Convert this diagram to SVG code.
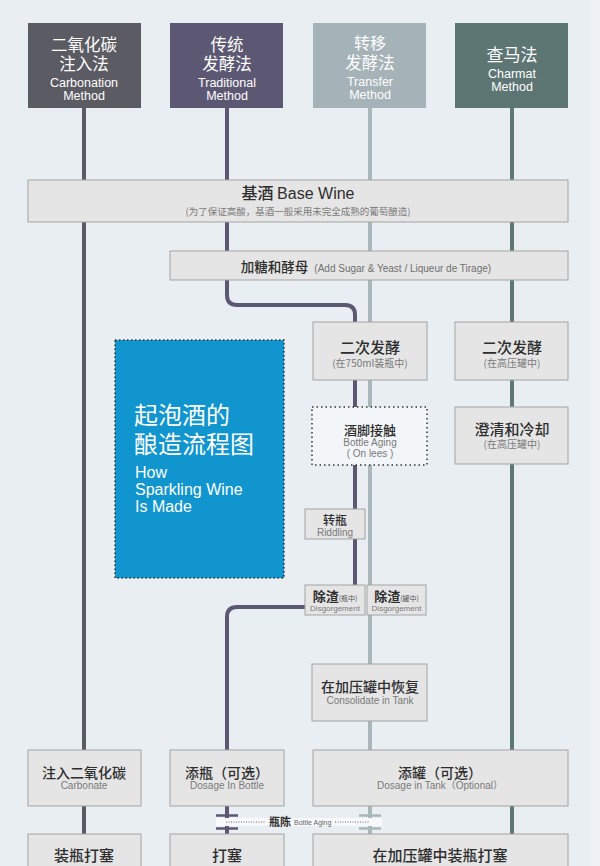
<svg xmlns="http://www.w3.org/2000/svg" width="600" height="866" viewBox="0 0 600 866">
<style>
.cn{font-family:"Noto Sans CJK SC","Liberation Sans",sans-serif}
.en{font-family:"Liberation Sans","Noto Sans CJK SC",sans-serif}
.hd{fill:#ffffff;text-anchor:middle}
.box{fill:#e5e5e5;stroke:#a3a3a3;stroke-width:1}
.t{fill:#2e2e2e;text-anchor:middle;font-weight:500}
.s{fill:#7a7a7a;text-anchor:middle}
.ln{fill:none;stroke-width:4}
</style>
<rect width="600" height="866" fill="#e9eef2"/>
<rect x="590" y="0" width="10" height="866" fill="#eef2f5"/>

<g id="connectors">
<path class="ln" d="M84 108 V866" stroke="#5b5b63"/>
<path class="ln" d="M370 108 V866" stroke="#a9b6ba"/>
<path class="ln" d="M512 108 V866" stroke="#5e7874"/>
<path class="ln" d="M227 108 V295 Q227 305 237 305 H345 Q355 305 355 315 V590" stroke="#5c5873"/>
<path class="ln" d="M306 607 H237 Q227 607 227 617 V866" stroke="#5c5873"/>
</g>

<g id="h1">
<rect x="28" y="23" width="113" height="85" fill="#5b5b63"/>
<text class="cn hd" x="84" y="51" font-size="16.5">二氧化碳</text>
<text class="cn hd" x="84" y="70" font-size="16.5">注入法</text>
<text class="en hd" x="84" y="87" font-size="12.5">Carbonation</text>
<text class="en hd" x="84" y="100" font-size="12.5">Method</text>
</g>
<g id="h2">
<rect x="170" y="23" width="113" height="85" fill="#5c5873"/>
<text class="cn hd" x="227" y="51" font-size="16.5">传统</text>
<text class="cn hd" x="227" y="70" font-size="16.5">发酵法</text>
<text class="en hd" x="227" y="87" font-size="12.5">Traditional</text>
<text class="en hd" x="227" y="100" font-size="12.5">Method</text>
</g>
<g id="h3">
<rect x="313" y="23" width="113" height="85" fill="#a5b3b8"/>
<text class="cn hd" x="370" y="49" font-size="16">转移</text>
<text class="cn hd" x="370" y="69" font-size="16.5">发酵法</text>
<text class="en hd" x="370" y="86" font-size="12.5">Transfer</text>
<text class="en hd" x="370" y="99" font-size="12.5">Method</text>
</g>
<g id="h4">
<rect x="455" y="23" width="113" height="85" fill="#5d7673"/>
<text class="cn hd" x="512" y="61" font-size="17">查马法</text>
<text class="en hd" x="512" y="78" font-size="12.5">Charmat</text>
<text class="en hd" x="512" y="91" font-size="12.5">Method</text>
</g>

<g id="base-wine">
<rect class="box" x="28" y="180" width="540" height="42" fill="#e7e7e7"/>
<text class="cn t" x="298" y="199" font-size="16">基酒 <tspan class="en">Base Wine</tspan></text>
<text class="cn s" x="298" y="215" font-size="9.5">(为了保证高酸，基酒一般采用未完全成熟的葡萄酿造)</text>
</g>

<g id="add-sugar">
<rect class="box" x="170" y="251" width="398" height="29"/>
<text x="366" y="272" text-anchor="middle"><tspan class="cn" font-size="13.5" fill="#2e2e2e" font-weight="500">加糖和酵母</tspan><tspan class="en" font-size="10" fill="#6f6f6f" dx="6">(Add Sugar &amp; Yeast / Liqueur de Tirage)</tspan></text>
</g>

<g id="ferm-bottle">
<rect class="box" x="313" y="322" width="114" height="58"/>
<text class="cn t" x="370" y="353" font-size="15">二次发酵</text>
<text class="cn s" x="370" y="367" font-size="10">(在750ml装瓶中)</text>
</g>
<g id="ferm-tank">
<rect class="box" x="455" y="322" width="113" height="58"/>
<text class="cn t" x="512" y="353" font-size="15">二次发酵</text>
<text class="cn s" x="512" y="367" font-size="10">(在高压罐中)</text>
</g>

<g id="on-lees">
<rect x="312" y="407" width="115" height="58" fill="#f3f6f8" stroke="#333" stroke-width="1.5" stroke-dasharray="1.5 3"/>
<text class="cn t" x="370" y="435" font-size="13">酒脚接触</text>
<text class="en s" x="370" y="446" font-size="10">Bottle Aging</text>
<text class="en s" x="370" y="457" font-size="10">( On lees )</text>
</g>
<g id="clarify">
<rect class="box" x="455" y="407" width="113" height="57"/>
<text class="cn t" x="512" y="435" font-size="15">澄清和冷却</text>
<text class="cn s" x="512" y="448" font-size="10">(在高压罐中)</text>
</g>

<g id="title">
<rect x="115" y="340" width="169" height="238" fill="#1095cf" stroke="#333" stroke-width="1.5" stroke-dasharray="1.5 2.5"/>
<text class="cn" x="134" y="424" font-size="24" fill="#ffffff">起泡酒的</text>
<text class="cn" x="134" y="453" font-size="24" fill="#ffffff">酿造流程图</text>
<text class="en" x="135" y="478" font-size="16" fill="#ffffff">How</text>
<text class="en" x="135" y="495" font-size="16" fill="#ffffff">Sparkling Wine</text>
<text class="en" x="135" y="512" font-size="16" fill="#ffffff">Is Made</text>
</g>

<g id="riddling">
<rect class="box" x="305" y="509" width="60" height="30"/>
<text class="cn t" x="335" y="525" font-size="12" font-weight="700">转瓶</text>
<text class="en s" x="335" y="536" font-size="10">Riddling</text>
</g>

<g id="disg-bottle">
<rect class="box" x="305" y="585" width="60" height="30"/>
<text x="335" y="601" text-anchor="middle" class="cn"><tspan font-size="13" font-weight="700" fill="#2e2e2e">除渣</tspan><tspan font-size="7" fill="#555">(瓶中)</tspan></text>
<text class="en s" x="335" y="611" font-size="8">Disgorgement</text>
</g>
<g id="disg-tank">
<rect class="box" x="367" y="585" width="59" height="30"/>
<text x="396.5" y="601" text-anchor="middle" class="cn"><tspan font-size="13" font-weight="700" fill="#2e2e2e">除渣</tspan><tspan font-size="7" fill="#555">(罐中)</tspan></text>
<text class="en s" x="396.5" y="611" font-size="8">Disgorgement</text>
</g>

<g id="consolidate">
<rect class="box" x="312" y="664" width="115" height="57"/>
<text class="cn t" x="370" y="692" font-size="14">在加压罐中恢复</text>
<text class="en s" x="370" y="704" font-size="10">Consolidate in Tank</text>
</g>

<g id="carbonate">
<rect class="box" x="28" y="750" width="113" height="56"/>
<text class="cn t" x="84" y="778" font-size="14">注入二氧化碳</text>
<text class="en s" x="84" y="789" font-size="10">Carbonate</text>
</g>
<g id="dosage-bottle">
<rect class="box" x="170" y="750" width="114" height="56"/>
<text class="cn t" x="227" y="778" font-size="14">添瓶（可选）</text>
<text class="en s" x="227" y="789" font-size="10">Dosage In Bottle</text>
</g>
<g id="dosage-tank">
<rect class="box" x="313" y="750" width="255" height="56"/>
<text class="cn t" x="440" y="778" font-size="14">添罐（可选）</text>
<text class="en s" x="440" y="789" font-size="10">Dosage in Tank（Optional）</text>
</g>

<g id="bottle-aging">
<rect x="216" y="818" width="166" height="8" fill="#f8f9fa"/>
<path d="M216 815.5 H238 M216 828.5 H238" stroke="#5c5873" stroke-width="2.5"/>
<path d="M359 815.5 H381 M359 828.5 H381" stroke="#a9b6ba" stroke-width="2.5"/>
<path d="M226 822 H266 M335 822 H370" stroke="#666" stroke-width="1" stroke-dasharray="1 1.5"/>
<text class="cn" x="269" y="826" font-size="11" font-weight="700" fill="#2e2e2e">瓶陈</text>
<text class="en" x="294" y="825" font-size="7" fill="#666">Bottle Aging</text>
</g>

<g id="cork-carbonate">
<rect class="box" x="28" y="834" width="113" height="40"/>
<text class="cn t" x="84" y="861" font-size="15">装瓶打塞</text>
</g>
<g id="cork-bottle">
<rect class="box" x="170" y="834" width="114" height="40"/>
<text class="cn t" x="227" y="861" font-size="15">打塞</text>
</g>
<g id="cork-tank">
<rect class="box" x="313" y="834" width="255" height="40"/>
<text class="cn t" x="440" y="861" font-size="15">在加压罐中装瓶打塞</text>
</g>
</svg>
